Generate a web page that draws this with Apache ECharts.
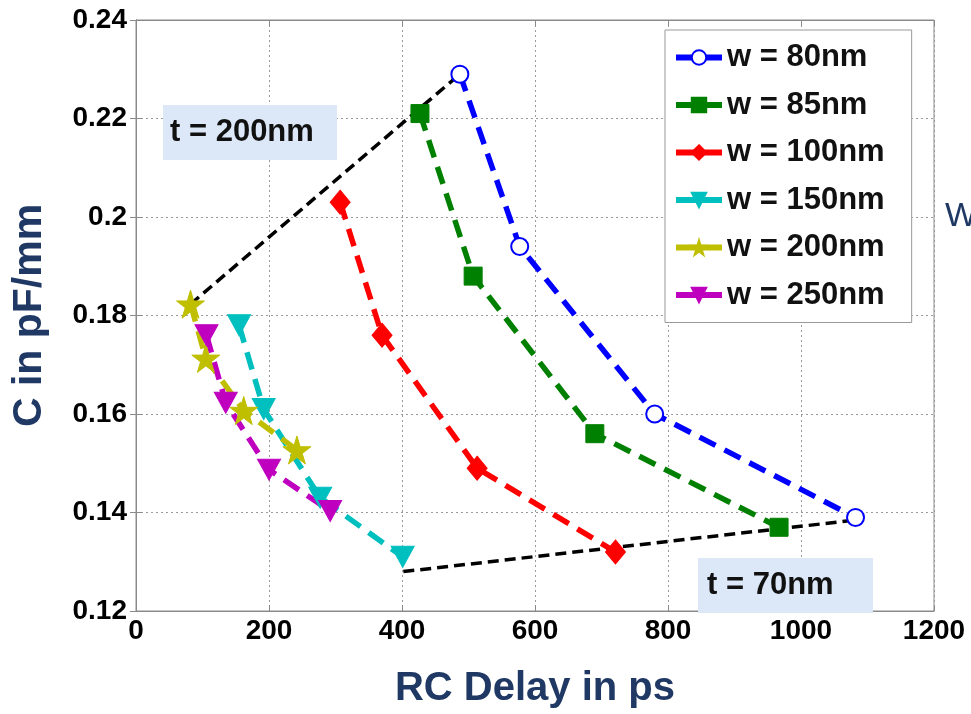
<!DOCTYPE html>
<html>
<head>
<meta charset="utf-8">
<script src="https://cdn.jsdelivr.net/npm/echarts@6/dist/echarts.min.js"></script>
<style>
html,body{margin:0;padding:0;background:#fff;}
#chart{width:971px;height:714px;}
</style>
</head>
<body>
<div id="chart"></div>
<script>
// ---- data ----
const xTicks = [0, 200, 400, 600, 800, 1000, 1200];
const xTickLabels = ['0', '200', '400', '600', '800', '1000', '1200'];
const yTicks = [0.12, 0.14, 0.16, 0.18, 0.2, 0.22, 0.24];
const yTickLabels = ['0.12', '0.14', '0.16', '0.18', '0.2', '0.22', '0.24'];

const seriesNames = ['w = 80nm', 'w = 85nm', 'w = 100nm', 'w = 150nm', 'w = 200nm', 'w = 250nm'];

const w80Delay = [487, 577, 780, 1082];
const w80Cap = [0.229, 0.194, 0.160, 0.139];
const w85Delay = [427, 507, 690, 967];
const w85Cap = [0.221, 0.188, 0.156, 0.137];
const w100Delay = [307, 370, 513, 721];
const w100Cap = [0.203, 0.176, 0.149, 0.132];
const w150Delay = [155, 192, 277, 401];
const w150Cap = [0.178, 0.161, 0.143, 0.131];
const w200Delay = [82, 105, 162, 242];
const w200Cap = [0.1823, 0.1713, 0.1607, 0.1527];
const w250Delay = [106, 135, 200, 292];
const w250Cap = [0.176, 0.1623, 0.1487, 0.1403];

const t200Delay = [82, 487];
const t200Cap = [0.1823, 0.229];
const t70Delay = [402, 1084];
const t70Cap = [0.128, 0.1385];

// ---- styles ----
const NAVY = '#1f3864';
const STAR = 'path://M50,0 L61,35 L98,35 L68,57 L79,91 L50,70 L21,91 L32,57 L2,35 L39,35 Z';
const zip = (xs, ys) => xs.map((x, i) => [x, ys[i]]);

const styles = [
  { color: '#0000ff', symbol: 'emptyCircle', size: 17, rotate: 0, bw: 4.5 },
  { color: '#008000', symbol: 'rect', size: 18, rotate: 0, bw: 1 },
  { color: '#ff0000', symbol: 'diamond', size: [20, 24], rotate: 0, bw: 1 },
  { color: '#00bfbf', symbol: 'triangle', size: [23, 21], rotate: 180, bw: 1 },
  { color: '#bfbf00', symbol: STAR, size: 28, rotate: 0, bw: 1 },
  { color: '#bf00bf', symbol: 'triangle', size: [23, 21], rotate: 180, bw: 1 }
];
const xs = [w80Delay, w85Delay, w100Delay, w150Delay, w200Delay, w250Delay];
const ys = [w80Cap, w85Cap, w100Cap, w150Cap, w200Cap, w250Cap];

const series = [
  {
    name: 't200', type: 'line', data: zip(t200Delay, t200Cap), symbol: 'none',
    lineStyle: { color: '#000', width: 3.5, type: [11, 6] }, z: 1, silent: true
  },
  {
    name: 't70', type: 'line', data: zip(t70Delay, t70Cap), symbol: 'none',
    lineStyle: { color: '#000', width: 3.5, type: [11, 6] }, z: 1, silent: true
  }
];
seriesNames.forEach((nm, i) => {
  const s = styles[i];
  series.push({
    name: nm, type: 'line', data: zip(xs[i], ys[i]),
    symbol: s.symbol, symbolSize: s.size, symbolRotate: s.rotate, showAllSymbol: true,
    lineStyle: { color: s.color, width: 5.5, type: [18, 10] },
    itemStyle: { color: s.color, borderColor: s.color, borderWidth: s.bw },
    z: 3
  });
});

const chart = echarts.init(document.getElementById('chart'), null, { renderer: 'canvas' });
const tickFont = { fontFamily: 'Liberation Sans, Arial, sans-serif', fontWeight: 'bold', fontSize: 28, color: '#000' };

chart.setOption({
  animation: false,
  backgroundColor: '#fff',
  grid: { left: 136, right: 37, top: 20, bottom: 94, show: true, borderColor: '#8a8a8a', borderWidth: 1, backgroundColor: '#fff' },
  xAxis: [{
    type: 'value', min: xTicks[0], max: xTicks[xTicks.length - 1], interval: xTicks[1] - xTicks[0],
    name: 'RC Delay in ps', nameLocation: 'middle', nameGap: 58,
    nameTextStyle: { fontFamily: 'Liberation Sans, Arial, sans-serif', fontWeight: 'bold', fontSize: 40, color: NAVY },
    axisLine: { show: true, lineStyle: { color: '#8a8a8a', width: 1 } },
    axisTick: { show: true, inside: true, length: 6, lineStyle: { color: '#8a8a8a' } },
    axisLabel: Object.assign({ margin: 6, formatter: (v, i) => xTickLabels[i] }, tickFont),
    splitLine: { show: true, lineStyle: { color: '#9a9a9a', type: [2, 3], width: 1 } }
  }, {
    type: 'value', position: 'top', min: xTicks[0], max: xTicks[xTicks.length - 1], interval: xTicks[1] - xTicks[0],
    axisLine: { show: true, lineStyle: { color: '#8a8a8a' } },
    axisTick: { show: true, inside: true, length: 6, lineStyle: { color: '#8a8a8a' } },
    axisLabel: { show: false }, splitLine: { show: false }
  }],
  yAxis: [{
    type: 'value', min: yTicks[0], max: yTicks[yTicks.length - 1], interval: 0.02,
    name: 'C in pF/mm', nameLocation: 'middle', nameGap: 86,
    nameTextStyle: { fontFamily: 'Liberation Sans, Arial, sans-serif', fontWeight: 'bold', fontSize: 41, color: NAVY },
    axisLine: { show: true, lineStyle: { color: '#8a8a8a', width: 1 } },
    axisTick: { show: true, inside: true, length: 6, lineStyle: { color: '#8a8a8a' } },
    axisLabel: Object.assign({ margin: 9, formatter: (v, i) => yTickLabels[i] }, tickFont),
    splitLine: { show: true, lineStyle: { color: '#9a9a9a', type: [2, 3], width: 1 } }
  }, {
    type: 'value', position: 'right', min: yTicks[0], max: yTicks[yTicks.length - 1], interval: 0.02,
    axisLine: { show: true, lineStyle: { color: '#8a8a8a' } },
    axisTick: { show: true, inside: true, length: 6, lineStyle: { color: '#8a8a8a' } },
    axisLabel: { show: false }, splitLine: { show: false }
  }],
  legend: {
    data: seriesNames,
    orient: 'vertical', left: 665, top: 30,
    backgroundColor: '#fff', borderColor: '#999', borderWidth: 1,
    padding: [12, 27, 12, 8],
    itemWidth: 46, itemHeight: 18, itemGap: 16.5,
    lineStyle: { type: 'solid', width: 6 },
    textStyle: { fontFamily: 'Liberation Sans, Arial, sans-serif', fontWeight: 'bold', fontSize: 31, lineHeight: 28, color: '#111', padding: [0, 0, 0, 0] }
  },
  graphic: [
    { type: 'rect', left: 163, top: 105, shape: { width: 174, height: 55 }, style: { fill: '#dce8f7' }, z: 10 },
    { type: 'text', left: 170, top: 117, style: { text: 't = 200nm', font: 'bold 31px "Liberation Sans", Arial, sans-serif', fill: '#111' }, z: 11 },
    { type: 'rect', left: 698, top: 558, shape: { width: 175, height: 55 }, style: { fill: '#dce8f7' }, z: 10 },
    { type: 'text', left: 707, top: 570, style: { text: 't = 70nm', font: 'bold 31px "Liberation Sans", Arial, sans-serif', fill: '#111' }, z: 11 },
    { type: 'text', left: 945, top: 200, style: { text: 'W', font: '34px "Liberation Sans", Arial, sans-serif', fill: NAVY }, z: 11 }
  ],
  series: series
});
</script>
</body>
</html>
